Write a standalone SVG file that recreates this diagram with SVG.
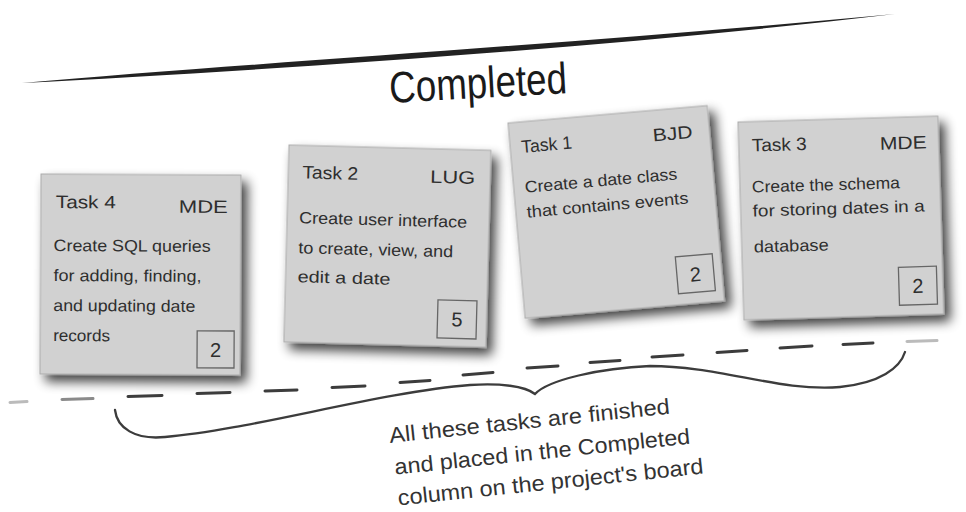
<svg xmlns="http://www.w3.org/2000/svg" width="966" height="512" viewBox="0 0 966 512">
<defs>
<filter id="shadow" x="-20%" y="-20%" width="150%" height="150%">
<feGaussianBlur in="SourceAlpha" stdDeviation="6"/>
<feOffset dx="6" dy="7"/>
<feComponentTransfer><feFuncA type="linear" slope="0.75"/></feComponentTransfer>
<feMerge><feMergeNode/><feMergeNode in="SourceGraphic"/></feMerge>
</filter>
<style>
.card{fill:#d1d1d1;stroke:#ababab;stroke-width:1;}
.box{fill:none;stroke:#666;stroke-width:1.3;}
.txt{font-family:"Liberation Sans",Arial,sans-serif;fill:#2e2e2e;}
.hd{font-size:18px;}
.bd{font-size:16.5px;}
.num{font-size:20px;text-anchor:middle;}
.note{font-family:"Liberation Sans",Arial,sans-serif;font-size:22px;fill:#333;}
.dash{stroke:#3c3c3c;stroke-width:3;stroke-linecap:round;fill:none;}
.brace{stroke:#3c3c3c;stroke-width:2.3;fill:none;stroke-linecap:round;}
</style>
</defs>
<rect width="966" height="512" fill="#ffffff"/>

<g id="header">
<path d="M22,83 C250,63 600,42 895,14 C600,49 250,71 22,83 Z" fill="#222"/>
<text x="390" y="103" transform="rotate(-3.2 390 103)" font-family="'Liberation Sans',Arial,sans-serif" font-size="44" fill="#1a1a1a" textLength="178" lengthAdjust="spacingAndGlyphs">Completed</text>
</g>

<g id="task4" transform="translate(41,174) rotate(0.3)">
<rect class="card" x="0" y="0" width="200" height="200" filter="url(#shadow)"/>
<text class="txt hd" x="15" y="34" textLength="60" lengthAdjust="spacingAndGlyphs">Task 4</text>
<text class="txt hd" x="138" y="38" textLength="49" lengthAdjust="spacingAndGlyphs">MDE</text>
<text class="txt bd" x="13" y="77" textLength="157" lengthAdjust="spacingAndGlyphs">Create SQL queries</text>
<text class="txt bd" x="13" y="107" textLength="148" lengthAdjust="spacingAndGlyphs">for adding, finding,</text>
<text class="txt bd" x="13" y="137" textLength="142" lengthAdjust="spacingAndGlyphs">and updating date</text>
<text class="txt bd" x="13" y="167" textLength="57" lengthAdjust="spacingAndGlyphs">records</text>
<rect class="box" x="157" y="156" width="37" height="37"/>
<text class="txt num" x="175.5" y="182">2</text>
</g>

<g id="task2" transform="translate(289,145) rotate(1.5)">
<rect class="card" x="0" y="0" width="202" height="197" filter="url(#shadow)"/>
<text class="txt hd" x="14" y="33" textLength="56" lengthAdjust="spacingAndGlyphs">Task 2</text>
<text class="txt hd" x="142" y="34" textLength="45" lengthAdjust="spacingAndGlyphs">LUG</text>
<text class="txt bd" x="12" y="78" textLength="168" lengthAdjust="spacingAndGlyphs">Create user interface</text>
<text class="txt bd" x="12" y="108" textLength="155" lengthAdjust="spacingAndGlyphs">to create, view, and</text>
<text class="txt bd" x="12" y="137" textLength="93" lengthAdjust="spacingAndGlyphs">edit a date</text>
<rect class="box" x="153" y="151" width="39" height="38"/>
<text class="txt num" x="172.5" y="177">5</text>
</g>

<g id="task1" transform="translate(508,123) rotate(-5)">
<rect class="card" x="0" y="0" width="200" height="196" filter="url(#shadow)"/>
<text class="txt hd" x="11" y="31" textLength="51" lengthAdjust="spacingAndGlyphs">Task 1</text>
<text class="txt hd" x="143" y="31" textLength="40" lengthAdjust="spacingAndGlyphs">BJD</text>
<text class="txt bd" x="11" y="71" textLength="153" lengthAdjust="spacingAndGlyphs">Create a date class</text>
<text class="txt bd" x="11" y="96" textLength="162" lengthAdjust="spacingAndGlyphs">that contains events</text>
<rect class="box" x="155" y="148" width="37" height="37"/>
<text class="txt num" x="173.5" y="174">2</text>
</g>

<g id="task3" transform="translate(738,122) rotate(-1.7)">
<rect class="card" x="0" y="0" width="200" height="198" filter="url(#shadow)"/>
<text class="txt hd" x="13" y="30" textLength="55" lengthAdjust="spacingAndGlyphs">Task 3</text>
<text class="txt hd" x="141" y="32" textLength="47" lengthAdjust="spacingAndGlyphs">MDE</text>
<text class="txt bd" x="12" y="71" textLength="148" lengthAdjust="spacingAndGlyphs">Create the schema</text>
<text class="txt bd" x="12" y="95" textLength="172" lengthAdjust="spacingAndGlyphs">for storing dates in a</text>
<text class="txt bd" x="12" y="131" textLength="75" lengthAdjust="spacingAndGlyphs">database</text>
<rect class="box" x="156" y="150" width="38" height="38"/>
<text class="txt num" x="175" y="176">2</text>
</g>

<g id="connectors">
<path class="dash" stroke-opacity="0.35" d="M10,402.5 L27,401.5"/>
<path class="dash" stroke-opacity="0.6" d="M62,399.5 L93,398.5"/>
<path class="dash" d="M128,396.5 L162,395.5 M197,393.5 L230,392.5 M265,391 L297,390 M332,387.5 L365,386 M400,382.5 L430,380.5 M463,375 L493,372.5 M527,368 L558,366 M590,362.5 L620,360.5 M652,357 L683,355 M717,352.5 L747,350.5 M780,348 L812,346 M843,344.5 L873,343"/>
<path class="dash" stroke-opacity="0.35" d="M907,341.5 L937,340.5"/>
<path class="brace" d="M115,410 C117,428 135,440 165,437 C250,430 380,392 470,385 C500,383 525,386 535,394 C548,380 600,368 650,366 C720,366 780,392 840,387 C880,383 900,368 905,352"/>
</g>

<g id="note" transform="translate(390,443) rotate(-6)">
<text class="note" x="0" y="0" textLength="282" lengthAdjust="spacingAndGlyphs">All these tasks are finished</text>
<text class="note" x="2" y="32" textLength="297" lengthAdjust="spacingAndGlyphs">and placed in the Completed</text>
<text class="note" x="2" y="63" textLength="307" lengthAdjust="spacingAndGlyphs">column on the project's board</text>
</g>
</svg>
